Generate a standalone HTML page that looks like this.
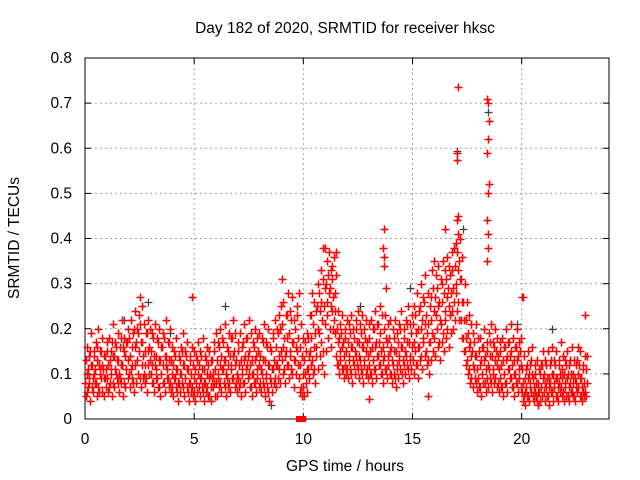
<!DOCTYPE html>
<html><head><meta charset="utf-8"><style>
body{margin:0;background:#fff}
svg{display:block;font-family:"Liberation Sans",sans-serif}
</style></head><body>
<svg id="chart" width="640" height="480" viewBox="0 0 640 480">
<rect width="640" height="480" fill="#fff"/>
<g id="grid"></g>
<g id="axes"></g>
<g id="pts"></g>
<text x="345" y="33" font-size="15.5" text-anchor="middle">Day 182 of 2020, SRMTID for receiver hksc</text>
<text x="345" y="471" font-size="15.5" text-anchor="middle">GPS time / hours</text>
<text x="19" y="238" font-size="15.5" text-anchor="middle" transform="rotate(-90 19 238)">SRMTID / TECUs</text>
</svg>
<script>
const xTicks=[0,5,10,15,20];
const yTicks=[0,0.1,0.2,0.3,0.4,0.5,0.6,0.7,0.8];
const yTickLabels=["0","0.1","0.2","0.3","0.4","0.5","0.6","0.7","0.8"];
const binStart=0, binStep=0.1;
const loVals=[.05,.07,.04,.06,.08,.05,.06,.09,.05,.07,.06,.08,.05,.07,.09,.06,.08,.05,.07,.09,.07,.09,.06,.08,.10,.07,.09,.08,.06,.10,.08,.06,.09,.07,.05,.08,.06,.09,.07,.06,.05,.07,.04,.06,.08,.05,.07,.04,.06,.05,.04,.06,.05,.07,.04,.06,.05,.04,.07,.05,.05,.07,.06,.08,.05,.07,.06,.09,.07,.06,.07,.05,.08,.06,.09,.07,.05,.08,.06,.07,.06,.08,.05,.07,.04,.06,.08,.07,.09,.08,.10,.08,.12,.09,.11,.07,.10,.12,.06,.05,.05,.06,.09,.12,.10,.08,.11,.14,.12,.10,.15,.18,.16,.20,.19,.12,.10,.11,.09,.10,.09,.11,.08,.10,.12,.09,.11,.08,.10,.09,.10,.08,.11,.09,.12,.10,.08,.11,.09,.10,.08,.10,.07,.09,.11,.08,.10,.12,.09,.11,.10,.12,.09,.13,.11,.14,.12,.10,.13,.15,.14,.16,.13,.17,.15,.18,.16,.19,.20,.22,.24,.22,.18,.15,.12,.10,.08,.07,.09,.06,.07,.05,.08,.06,.07,.09,.06,.08,.07,.06,.07,.05,.08,.06,.09,.07,.05,.08,.06,.07,.04,.03,.05,.04,.06,.04,.05,.03,.04,.05,.04,.05,.03,.06,.04,.05,.04,.06,.05,.04,.05,.04,.06,.05,.04,.06,.05,.04,.05,.05];
const lowMidVals=[.08,.06,.09,.07,.10,.08,.07,.11,.06,.09,.09,.07,.11,.08,.10,.08,.09,.12,.08,.11,.10,.11,.08,.12,.13,.09,.12,.10,.09,.12,.10,.08,.12,.09,.07,.10,.08,.12,.09,.08,.07,.09,.06,.08,.10,.07,.09,.06,.08,.07,.06,.08,.07,.09,.06,.08,.07,.05,.09,.08,.08,.09,.08,.11,.07,.09,.08,.12,.09,.08,.09,.08,.11,.08,.12,.10,.07,.10,.08,.09,.08,.10,.07,.09,.06,.08,.11,.09,.12,.11,.13,.11,.15,.12,.14,.10,.13,.15,.09,.07,.07,.08,.11,.15,.13,.11,.16,.19,.17,.15,.21,.23,.20,.24,.22,.14,.12,.13,.11,.12,.11,.13,.10,.12,.14,.11,.13,.10,.12,.11,.12,.10,.13,.11,.14,.12,.10,.14,.11,.12,.10,.12,.09,.11,.13,.10,.12,.14,.11,.13,.13,.15,.12,.16,.14,.17,.15,.13,.17,.19,.18,.20,.17,.21,.19,.22,.20,.23,.24,.26,.28,.26,.22,.18,.15,.13,.11,.09,.11,.08,.09,.07,.10,.08,.09,.11,.08,.10,.09,.08,.09,.07,.10,.08,.11,.09,.07,.10,.08,.09,.06,.05,.07,.05,.08,.05,.06,.04,.06,.07,.06,.07,.05,.08,.06,.07,.05,.08,.07,.06,.07,.05,.08,.06,.05,.08,.07,.05,.06,.06];
const midVals=[.10,.08,.12,.09,.11,.13,.10,.12,.09,.11,.12,.10,.14,.11,.13,.10,.12,.15,.11,.13,.14,.12,.16,.13,.15,.17,.14,.12,.15,.13,.12,.14,.11,.13,.10,.12,.14,.11,.13,.10,.09,.11,.08,.10,.12,.09,.11,.08,.10,.09,.08,.10,.09,.11,.08,.10,.09,.07,.10,.11,.10,.12,.11,.13,.10,.12,.11,.14,.12,.10,.12,.10,.13,.11,.14,.12,.10,.13,.11,.12,.11,.13,.10,.12,.09,.11,.13,.12,.14,.15,.16,.14,.18,.15,.17,.13,.16,.18,.12,.10,.10,.11,.14,.18,.16,.14,.20,.24,.22,.21,.26,.28,.25,.27,.24,.17,.15,.16,.14,.15,.14,.16,.13,.15,.17,.14,.16,.13,.15,.14,.15,.13,.16,.14,.17,.15,.13,.18,.14,.15,.13,.15,.12,.14,.16,.13,.15,.17,.14,.16,.17,.19,.16,.20,.18,.21,.19,.17,.22,.24,.23,.25,.22,.26,.24,.27,.25,.28,.29,.30,.33,.31,.26,.22,.18,.16,.14,.12,.14,.11,.12,.10,.13,.11,.12,.14,.11,.13,.12,.11,.12,.10,.13,.11,.14,.12,.10,.13,.11,.12,.08,.06,.09,.07,.10,.07,.08,.06,.07,.09,.08,.09,.07,.10,.08,.09,.07,.10,.09,.08,.09,.07,.10,.08,.07,.10,.09,.07,.08,.08];
const midHighVals=[.13,.11,.15,.12,.14,.16,.12,.15,.11,.14,.15,.13,.17,.14,.16,.13,.18,.16,.14,.17,.18,.16,.20,.17,.19,.21,.17,.15,.19,.16,.15,.18,.14,.17,.13,.16,.18,.14,.17,.13,.12,.14,.11,.13,.15,.12,.14,.11,.13,.12,.11,.13,.12,.14,.11,.13,.12,.10,.13,.15,.13,.16,.14,.17,.13,.15,.14,.18,.15,.13,.15,.13,.17,.14,.18,.15,.13,.16,.14,.15,.14,.17,.13,.16,.12,.15,.18,.16,.19,.20,.21,.18,.23,.19,.22,.17,.20,.23,.16,.14,.13,.15,.18,.23,.21,.19,.25,.28,.26,.25,.30,.32,.29,.31,.28,.20,.18,.19,.17,.18,.17,.19,.16,.18,.20,.17,.19,.16,.18,.17,.18,.16,.20,.17,.21,.19,.16,.23,.17,.18,.16,.18,.15,.17,.20,.16,.18,.21,.17,.19,.21,.23,.20,.25,.22,.26,.23,.21,.27,.29,.27,.29,.26,.30,.28,.31,.29,.32,.33,.34,.37,.35,.31,.26,.22,.19,.17,.15,.17,.14,.15,.13,.16,.14,.15,.17,.14,.16,.15,.14,.15,.13,.16,.14,.17,.15,.13,.16,.14,.15,.11,.09,.12,.10,.13,.09,.10,.08,.10,.12,.10,.12,.09,.13,.10,.12,.09,.13,.11,.10,.12,.10,.13,.10,.09,.13,.12,.09,.11,.11];
const hiVals=[.16,.14,.19,.15,.17,.20,.15,.18,.14,.17,.18,.15,.21,.17,.19,.16,.22,.18,.17,.20,.22,.19,.24,.20,.23,.25,.21,.19,.22,.20,.19,.21,.18,.20,.16,.19,.22,.17,.20,.16,.15,.18,.14,.16,.19,.15,.17,.14,.16,.15,.14,.17,.15,.18,.14,.16,.15,.13,.17,.19,.17,.20,.18,.21,.16,.19,.18,.22,.19,.17,.19,.16,.21,.18,.22,.19,.17,.20,.18,.19,.18,.21,.17,.20,.16,.19,.22,.20,.23,.25,.26,.23,.28,.24,.27,.22,.25,.28,.21,.18,.17,.19,.23,.28,.26,.24,.30,.33,.31,.29,.35,.37,.33,.36,.32,.24,.21,.23,.20,.22,.21,.23,.20,.22,.24,.21,.23,.20,.22,.21,.22,.20,.24,.21,.25,.23,.20,.29,.21,.22,.20,.22,.19,.21,.24,.20,.22,.25,.21,.23,.25,.28,.24,.30,.27,.32,.28,.25,.33,.35,.32,.34,.31,.35,.33,.36,.34,.37,.38,.39,.41,.40,.36,.30,.26,.23,.21,.19,.21,.18,.18,.16,.20,.17,.19,.21,.17,.20,.18,.17,.18,.16,.20,.17,.21,.18,.16,.20,.17,.18,.14,.11,.15,.12,.16,.12,.13,.11,.12,.15,.13,.15,.12,.16,.13,.15,.12,.17,.14,.13,.15,.12,.16,.13,.12,.16,.15,.12,.14,.14];
const outT=[17.1,18.4,18.45,18.5,18.45,18.4,17.05,17.05,18.5,18.45,18.4,18.45,18.45,18.4,17.05,17.1,13.7,13.65,13.7,13.7,10.9,11.0,11.5,9.0,20.0,20.05,22.9,16.5,2.5,4.9,13.0,15.7,11.3];
const outV=[.735,.71,.70,.66,.62,.59,.59,.575,.52,.50,.44,.41,.38,.35,.44,.45,.42,.38,.36,.34,.38,.38,.37,.31,.27,.27,.23,.42,.27,.27,.045,.05,.34];
const blkT=[17.05,18.45,17.3,2.9,1.8,8.5,12.6,19.8,21.4,14.9,16.7,6.4,22.7,3.9];
const blkV=[.595,.68,.42,.26,.22,.03,.25,.21,.20,.29,.23,.25,.09,.19];
const redSqT=[9.8,10.0];
const redSqV=[0,0];

const X0=85,X1=609,Y0=419,Y1=58;
const sx=t=>X0+(t-0)/(24-0)*(X1-X0);
const sy=v=>Y0-(v-0)/(0.8-0)*(Y0-Y1);
const NS="http://www.w3.org/2000/svg";
function mk(tag,parent,attrs){const e=document.createElementNS(NS,tag);for(const k in attrs)e.setAttribute(k,attrs[k]);parent.appendChild(e);return e;}
const grid=document.getElementById('grid'),axes=document.getElementById('axes'),pts=document.getElementById('pts');

xTicks.forEach((t,i)=>{
  const x=sx(t);
  if(t>0){const g=mk('line',grid,{x1:x,x2:x,y1:Y1,y2:Y0,stroke:'#a0a0a0','stroke-dasharray':'2,3'});
  
  }
  mk('line',axes,{x1:x,x2:x,y1:Y0,y2:Y0-6,stroke:'#000'});
  mk('line',axes,{x1:x,x2:x,y1:Y1,y2:Y1+6,stroke:'#000'});
  const l=mk('text',axes,{x:x,y:Y0+25,'font-size':15.5,'text-anchor':'middle'});
  l.textContent=String(t);
  
  
});
yTicks.forEach((v,i)=>{
  const y=sy(v);
  if(v>0&&v<0.8){const g=mk('line',grid,{x1:X0,x2:X1,y1:y,y2:y,stroke:'#a0a0a0','stroke-dasharray':'2,3'});
  
  }
  mk('line',axes,{x1:X0,x2:X0+6,y1:y,y2:y,stroke:'#000'});
  mk('line',axes,{x1:X1,x2:X1-6,y1:y,y2:y,stroke:'#000'});
  const l=mk('text',axes,{x:X0-13,y:y+5,'font-size':15.5,'text-anchor':'end'});
  l.textContent=yTickLabels[i];
  
  
});
const fr=mk('rect',axes,{x:X0,y:Y1,width:X1-X0,height:Y0-Y1,fill:'none',stroke:'#000'});



let dBlack='',dRed='';
const plus=(t,v)=>{const x=Math.round(sx(t))+0.5,y=Math.round(sy(v))+0.5;return `M${x-4} ${y}h8M${x} ${y-4}v8`;};
blkT.forEach((t,i)=>{dBlack+=plus(t,blkV[i]);});
for(let i=0;i<loVals.length;i++){
  const t=binStart+i*binStep;
  dRed+=plus(t+0.05,loVals[i])
       +plus(t,lowMidVals[i])
       +plus(t+0.07,midVals[i])
       +plus(t+0.03,midHighVals[i])
       +plus(t+0.09,hiVals[i]);
}
outT.forEach((t,i)=>{dRed+=plus(t,outV[i]);});
const pb=mk('path',pts,{d:dBlack,stroke:'#404040','stroke-width':1.3,fill:'none'});


const pr=mk('path',pts,{d:dRed,stroke:'#ff0000','stroke-width':1.6,fill:'none'});


redSqT.forEach((t,i)=>{
  const r=mk('rect',pts,{x:sx(t)-3,y:sy(redSqV[i])-3,width:6,height:6,fill:'#ff0000'});
  
  
});
</script>
</body></html>
